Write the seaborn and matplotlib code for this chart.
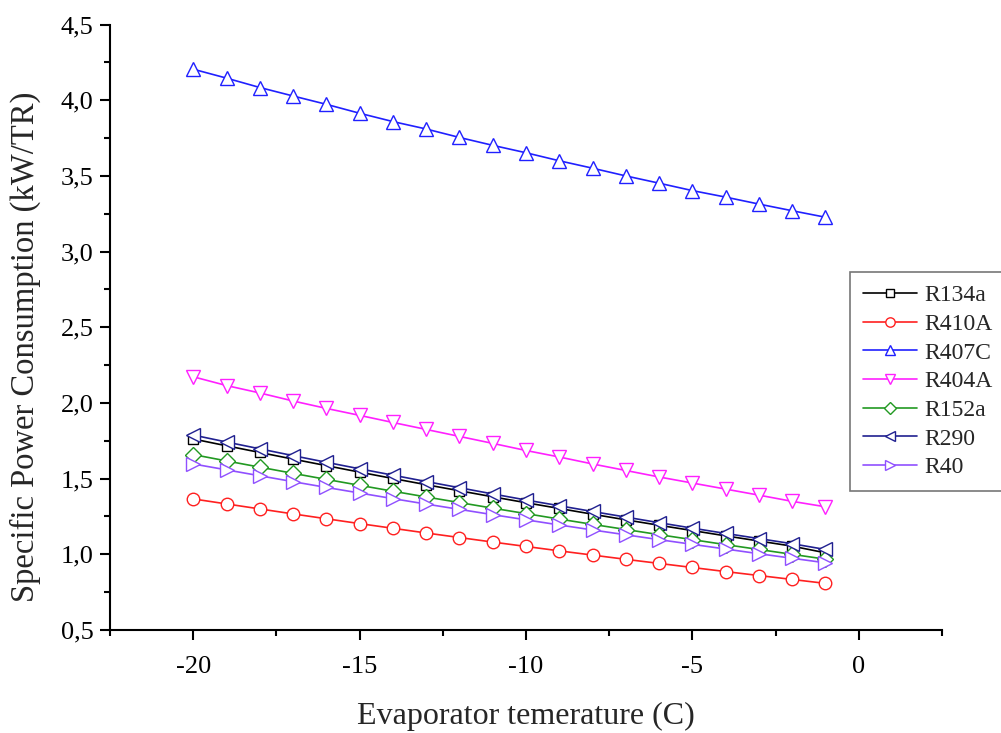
import numpy as np
import pandas as pd
import matplotlib
matplotlib.use("Agg")
import matplotlib.pyplot as plt
import seaborn as sns
from matplotlib.ticker import MultipleLocator, FuncFormatter

temps = [-20, -19, -18, -17, -16, -15, -14, -13, -12, -11, -10, -9, -8, -7, -6, -5, -4, -3, -2, -1]

r134a = [1.762, 1.717, 1.673, 1.629, 1.586, 1.543, 1.501, 1.460, 1.420, 1.380, 1.341, 1.303, 1.265, 1.228, 1.192, 1.157, 1.122, 1.088, 1.054, 1.010]
r410a = [1.366, 1.333, 1.300, 1.267, 1.235, 1.203, 1.172, 1.141, 1.111, 1.081, 1.052, 1.023, 0.995, 0.967, 0.940, 0.913, 0.886, 0.860, 0.834, 0.808]
r407c = [4.205, 4.146, 4.084, 4.028, 3.973, 3.914, 3.859, 3.810, 3.754, 3.702, 3.653, 3.600, 3.551, 3.500, 3.452, 3.403, 3.360, 3.314, 3.270, 3.227]
r404a = [2.173, 2.115, 2.066, 2.013, 1.964, 1.918, 1.871, 1.825, 1.779, 1.733, 1.686, 1.643, 1.597, 1.554, 1.511, 1.471, 1.431, 1.391, 1.350, 1.314]
r152a = [1.659, 1.617, 1.576, 1.535, 1.495, 1.456, 1.417, 1.379, 1.342, 1.305, 1.269, 1.233, 1.198, 1.164, 1.130, 1.097, 1.064, 1.032, 1.000, 0.968]
r290 = [1.788, 1.742, 1.697, 1.652, 1.608, 1.565, 1.523, 1.481, 1.440, 1.399, 1.359, 1.321, 1.283, 1.246, 1.209, 1.173, 1.138, 1.104, 1.070, 1.032]
r40 = [1.597, 1.558, 1.519, 1.480, 1.442, 1.405, 1.368, 1.332, 1.297, 1.262, 1.228, 1.194, 1.161, 1.129, 1.097, 1.066, 1.035, 1.004, 0.974, 0.944]

names = ["R134a", "R410A", "R407C", "R404A", "R152a", "R290", "R40"]
series = [r134a, r410a, r407c, r404a, r152a, r290, r40]
colors = ["#000000", "#FF2020", "#2020FF", "#FF20FF", "#229922", "#202090", "#9050FF"]
markers = ["s", "o", "^", "v", "D", "<", ">"]
msizes = [7.5, 9, 9.5, 9.5, 8, 9.5, 9.5]

sns.set_style("ticks")
plt.rcParams["font.family"] = ["Liberation Serif", "DejaVu Serif"]

fig = plt.figure(figsize=(10.01, 7.33), dpi=100)
ax = fig.add_axes([0.110, 0.1405, 0.831, 0.826])

for name, vals, c, m, ms in zip(names, series, colors, markers, msizes):
    df = pd.DataFrame({"T": temps, "P": vals})
    sns.lineplot(data=df, x="T", y="P", ax=ax, color=c, marker=m, markersize=ms,
                 markerfacecolor="white", markeredgecolor=c, markeredgewidth=1.0,
                 linewidth=1.2, label=name)

ax.set_xlim(-22.5, 2.5)
ax.set_ylim(0.5, 4.5)
ax.xaxis.set_major_locator(MultipleLocator(5))
ax.xaxis.set_minor_locator(MultipleLocator(2.5))
ax.yaxis.set_major_locator(MultipleLocator(0.5))
ax.yaxis.set_minor_locator(MultipleLocator(0.25))
ax.yaxis.set_major_formatter(FuncFormatter(lambda v, p: f"{v:.1f}".replace(".", ",")))
ax.xaxis.set_major_formatter(FuncFormatter(lambda v, p: f"{v:.0f}"))

ax.tick_params(which="major", direction="out", length=7, width=1.5, labelsize=19, colors="black", pad=5)
ax.tick_params(which="minor", direction="out", length=4, width=1.5, colors="black")
ax.tick_params(axis="x", which="major", pad=12)
for s in ["top", "right"]:
    ax.spines[s].set_visible(False)
for s in ["left", "bottom"]:
    ax.spines[s].set_linewidth(1.5)
    ax.spines[s].set_color("black")

ax.set_xlabel("Evaporator temerature (C)", fontsize=23, labelpad=17)
ax.set_ylabel("Specific Power Consumption (kW/TR)", fontsize=23.5)
ax.yaxis.set_label_coords(-0.083, 0.467)

leg = ax.legend(loc="upper left", bbox_to_anchor=(0.849, 0.629), bbox_transform=fig.transFigure,
                fontsize=17, frameon=True, fancybox=False, edgecolor="#555555",
                handlelength=2.3, handletextpad=0.3, labelspacing=0.3, borderpad=0.55,
                borderaxespad=0, markerscale=0.75)
leg.get_frame().set_linewidth(1.2)

fig.savefig("out.png", dpi=100)
